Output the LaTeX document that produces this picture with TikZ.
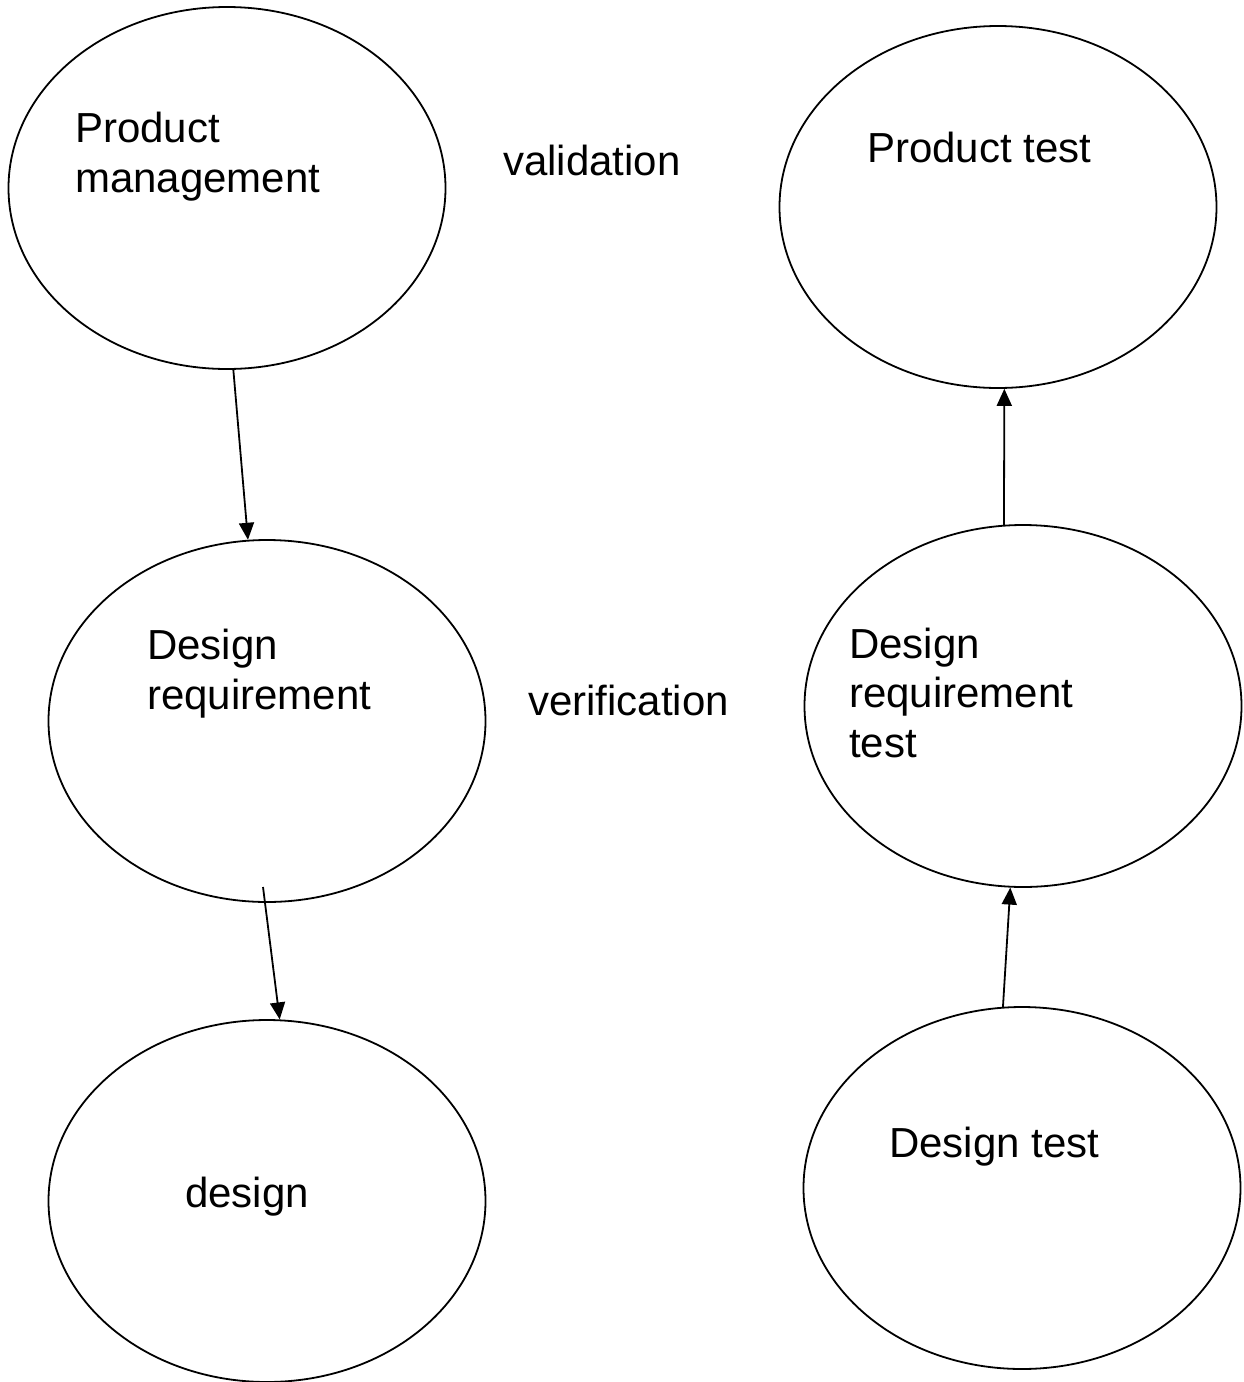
\documentclass[tikz,border=0pt]{standalone}
\usepackage{fontspec}
\setmainfont{Liberation Sans}
\usetikzlibrary{shapes.geometric,arrows.meta}
\begin{document}
\begin{tikzpicture}[x=1pt,y=-1pt,
  bubble/.style={draw=black,ellipse,line width=1.8pt,minimum width=437pt,minimum height=362pt,inner sep=0pt},
  lbl/.style={inner sep=0pt,anchor=base west,align=left,font=\fontsize{42}{49.5}\selectfont},
  conn/.style={draw=black,line width=1.8pt,-{Triangle[length=17pt,width=15pt]}}]
\useasboundingbox (0,0) rectangle (1243,1382);
\node[bubble] (pm)  at (227,188)  {};
\node[bubble] (pt)  at (998,207)  {};
\node[bubble] (dr)  at (267,721)  {};
\node[bubble] (drt) at (1023,706) {};
\node[bubble] (ds)  at (267,1201) {};
\node[bubble] (dt)  at (1022,1188) {};
\node[lbl] (pmt)  at (75,192)  {Product\\management};
\node[lbl] (ptt)  at (867,162) {Product test};
\node[lbl] (drtx) at (147,709) {Design\\requirement};
\node[lbl] (drtt) at (849,757) {Design\\requirement\\test};
\node[lbl] (dst)  at (185,1207) {design};
\node[lbl] (dtt)  at (889,1157) {Design test};
\node[lbl] (val)  at (503,175) {validation};
\node[lbl] (ver)  at (528,715) {verification};
\coordinate (drs) at (263,887);
\draw[conn] (pm.-88.7) -- (dr.96.9);
\draw[conn] (drs) -- (ds.86.8);
\draw[conn] (drt.96.6) -- (pt.-88.7);
\draw[conn] (dt.96.3) -- (drt.-94.4);
\end{tikzpicture}
\end{document}
